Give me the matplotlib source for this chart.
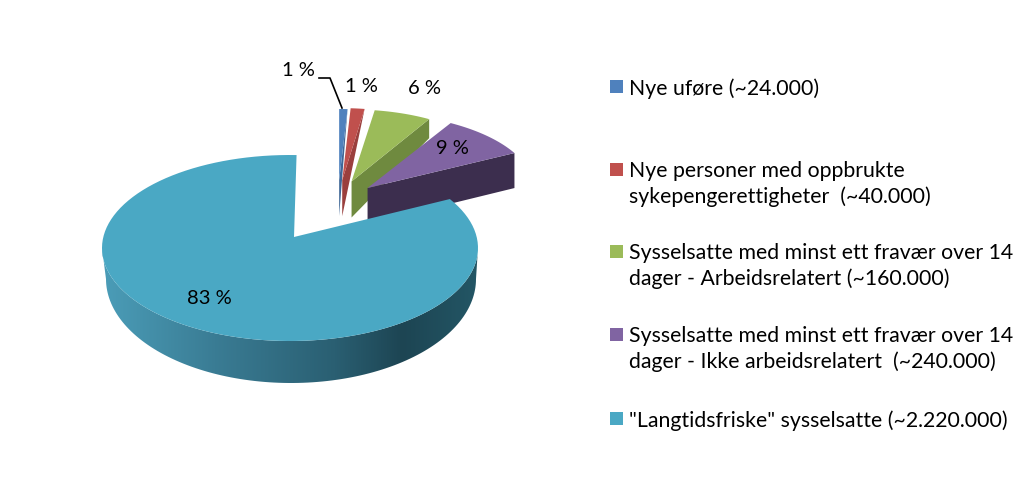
import numpy as np
import matplotlib
matplotlib.use("Agg")
import matplotlib.pyplot as plt
from matplotlib.colors import LinearSegmentedColormap
from matplotlib.patches import Polygon, Rectangle

# data
labels = ["Nye uføre (~24.000)",
          "Nye personer med oppbrukte\nsykepengerettigheter  (~40.000)",
          "Sysselsatte med minst ett fravær over 14\ndager - Arbeidsrelatert (~160.000)",
          "Sysselsatte med minst ett fravær over 14\ndager - Ikke arbeidsrelatert  (~240.000)",
          "\"Langtidsfriske\" sysselsatte (~2.220.000)"]
values = [24000, 40000, 160000, 240000, 2220000]

colors = ["#4F81BD", "#C0504D", "#9BBB59", "#8064A2", "#4AA8C4"]
dark = ["#3F6797", "#9A3F3D", "#6F8A3F", "#3C2E4E"]

plt.rcParams["font.family"] = ["Lato", "DejaVu Sans"]

fig = plt.figure(figsize=(10.24, 4.8), dpi=100)
ax = fig.add_axes([0, 0, 1, 1])
ax.axis("off")

total = float(sum(values))
edges = np.cumsum([0] + values) / total * 360.0


def arc(cx, cy, rx, ry, a0, a1, n=120):
    # angles clockwise from twelve o'clock
    t = np.radians(np.linspace(a0, a1, n))
    return np.column_stack([cx + rx * np.sin(t), cy - ry * np.cos(t)])


# the four small pieces pulled out of the pie
base_x, base_y = 338, 206
pull_x, pull_y = 41, 26
small_rx = [150, 150, 155, 166]
small_ry = [71, 72, 72, 75]
depth_apex = 36
depth_end = [0, 0, 19, 35]

for i in range(4):
    a0, a1 = edges[i], edges[i + 1]
    mid = np.radians((a0 + a1) / 2)
    ax_ = base_x + pull_x * np.sin(mid)
    ay_ = base_y - pull_y * np.cos(mid)
    pts = arc(ax_, ay_, small_rx[i], small_ry[i], a0, a1)
    end = pts[-1]
    side = [[ax_, ay_], end, [end[0], end[1] + depth_end[i]], [ax_, ay_ + depth_apex]]
    ax.add_patch(Polygon(side, closed=True, fc=dark[i], ec="none", zorder=2 + i))
    ax.add_patch(Polygon(np.vstack([[ax_, ay_], pts]), closed=True, fc=colors[i], ec="none", zorder=2 + i))

# big slice
cx, cy, rx, ry = 290, 248, 188, 93
apex = [294, 237]

rim_top = arc(cx, cy, rx, ry, 90, 270)
rim_low = arc(cx + 1, 279, 185, 104, 270, 90)
rim = Polygon(np.vstack([rim_top, rim_low]), closed=True, fc="none", ec="none", zorder=7)
ax.add_patch(rim)
cmap = LinearSegmentedColormap.from_list("rim", [(0, "#4B9DB8"), (0.3, "#3A7C94"), (0.62, "#2A5F72"),
                                                 (0.8, "#1D4553"), (1, "#235665")])
grad = ax.imshow(np.linspace(0, 1, 256).reshape(1, -1), cmap=cmap, aspect="auto",
                 extent=[cx - rx, cx + rx, 400, 230], zorder=7)
grad.set_clip_path(rim)

top = arc(cx, cy, rx, ry, edges[4] - 4, 362)
ax.add_patch(Polygon(np.vstack([apex, top]), closed=True, fc=colors[4], ec="none", zorder=8))

# data labels
label_pos = [(298, 71), (361, 86), (424, 89), (452, 149), (209, 298)]
for v, (x, y) in zip(values, label_pos):
    ax.text(x, y, "%d %%" % round(v / total * 100), fontsize=14.5, color="black",
            ha="center", va="center", zorder=10)
ax.plot([319, 330, 342], [78, 78, 108], color="black", lw=1.2, zorder=10)

# legend
legend_y = [86, 169, 251, 334, 418]
for c, lab, y in zip(colors, labels, legend_y):
    ax.add_patch(Rectangle((610, y - 6.5), 13, 13, fc=c, ec="none"))
    ax.text(629, y - 8, lab, fontsize=15.3, color="black", ha="left", va="top", linespacing=1.33)

ax.set_xlim(0, 1024)
ax.set_ylim(480, 0)
fig.savefig("out.png", dpi=100)
